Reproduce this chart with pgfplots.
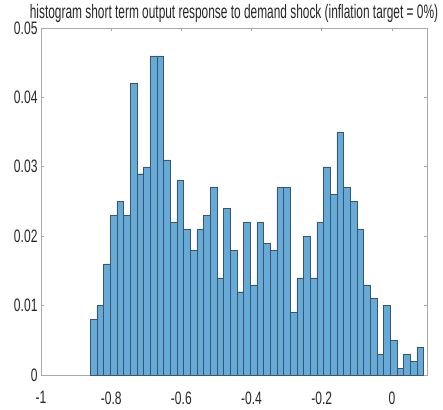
\documentclass[border=0pt]{standalone}
\usepackage{fontspec}
\setmainfont{Liberation Sans}
\newfontfamily\tickfont{Liberation Sans}[FakeStretch=0.67]
\newfontfamily\titlefont{Liberation Sans}[FakeStretch=0.61]
\usepackage{pgfplots}
\pgfplotsset{compat=1.18}
\definecolor{barfill}{RGB}{102,170,215}
\definecolor{baredge}{RGB}{60,85,110}
\definecolor{axgray}{RGB}{170,170,170}
\begin{document}
\begin{tikzpicture}
\begin{axis}[
  scale only axis,
  width=386pt, height=347pt,
  xmin=-1, xmax=0.1,
  ymin=0, ymax=0.05,
  scaled y ticks=false,
  scaled x ticks=false,
  xtick={-1,-0.8,-0.6,-0.4,-0.2,0},
  ytick={0,0.01,0.02,0.03,0.04,0.05},
  xticklabels={-1,-0.8,-0.6,-0.4,-0.2,0},
  yticklabels={0,0.01,0.02,0.03,0.04,0.05},
  tick align=inside,
  major tick length=3pt,
  axis line style={axgray, line width=0.6pt},
  tick style={axgray, line width=0.6pt},
  tick label style={font=\tickfont\fontsize{18}{18}\selectfont, text=black!85},
  xticklabel style={yshift=-13pt},
  yticklabel style={xshift=0pt},
  title={histogram short term output response to demand shock (inflation target = 0\%)},
  title style={font=\titlefont\fontsize{19.5}{19.5}\selectfont, text=black!85, at={(0.5,1)}, anchor=base, yshift=3pt, inner sep=0pt},
  clip=false,
]
\addplot[ybar interval, fill=barfill, draw=baredge, line width=0.4pt] coordinates {
(-0.860,0.008) (-0.841,0.010) (-0.822,0.016) (-0.803,0.023) (-0.784,0.025)
(-0.765,0.023) (-0.746,0.042) (-0.727,0.029) (-0.708,0.030) (-0.689,0.046)
(-0.670,0.046) (-0.651,0.031) (-0.632,0.022) (-0.613,0.028) (-0.594,0.021)
(-0.575,0.018) (-0.556,0.021) (-0.537,0.023) (-0.518,0.027) (-0.499,0.014)
(-0.480,0.024) (-0.461,0.018) (-0.442,0.012) (-0.423,0.022) (-0.404,0.013)
(-0.385,0.022) (-0.366,0.019) (-0.347,0.018) (-0.328,0.027) (-0.309,0.027)
(-0.290,0.009) (-0.271,0.014) (-0.252,0.020) (-0.233,0.014) (-0.214,0.022)
(-0.195,0.030) (-0.176,0.026) (-0.157,0.035) (-0.138,0.027) (-0.119,0.025)
(-0.100,0.021) (-0.081,0.013) (-0.062,0.011) (-0.043,0.003) (-0.024,0.010)
(-0.005,0.005) (0.014,0.001) (0.033,0.003) (0.052,0.002) (0.071,0.004)
(0.090,0.004)
};
\coordinate (sw) at (rel axis cs:0,0);
\coordinate (ne) at (rel axis cs:1,1);
\end{axis}
\path ([shift={(-41pt,-35pt)}]sw) rectangle ([shift={(16pt,28pt)}]ne);
\end{tikzpicture}
\end{document}
